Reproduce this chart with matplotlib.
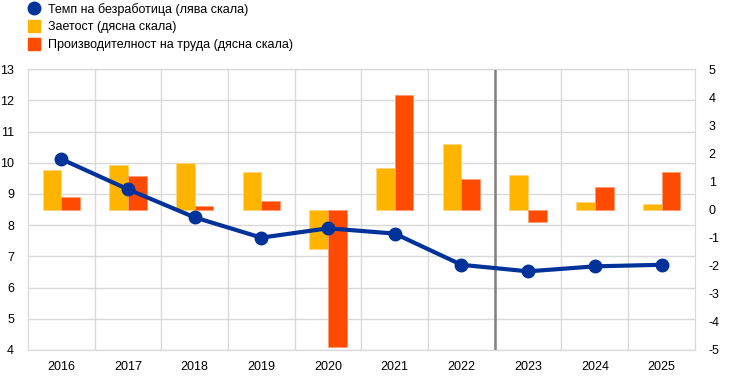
import numpy as np
import matplotlib.pyplot as plt
from matplotlib.lines import Line2D

plt.rcParams["font.family"] = ["Liberation Sans", "DejaVu Sans"]
plt.rcParams["axes.unicode_minus"] = False

# ── Data ──────────────────────────────────────────────────────────────────
years = ["2016", "2017", "2018", "2019", "2020", "2021", "2022", "2023", "2024", "2025"]
unemployment = [10.12, 9.15, 8.25, 7.6, 7.9, 7.73, 6.73, 6.52, 6.68, 6.73]  # left scale
employment = [1.40, 1.58, 1.65, 1.35, -1.40, 1.49, 2.35, 1.23, 0.26, 0.21]  # right scale
productivity = [0.45, 1.19, 0.12, 0.30, -4.9, 4.07, 1.10, -0.44, 0.81, 1.35]  # right scale

BLUE = "#003299"
YELLOW = "#FFB400"
ORANGE = "#FF4B00"
GRID = "#d9d9d9"

fig = plt.figure(figsize=(7.33, 3.8), dpi=100)
ax_bar = fig.add_axes([0.038, 0.079, 0.910, 0.739])
ax_line = ax_bar.twinx()

x = np.arange(len(years))
w = 0.28

ax_bar.bar(x - w / 2, employment, width=w, color=YELLOW, edgecolor="#ffd580", linewidth=0.6, zorder=2)
ax_bar.bar(x + w / 2, productivity, width=w, color=ORANGE, edgecolor="#ff9a70", linewidth=0.6, zorder=2)
ax_bar.set_ylim(-5, 5)
ax_bar.set_yticks(np.arange(-5, 6, 1))
ax_bar.yaxis.tick_right()
ax_bar.set_xlim(-0.5, len(years) - 0.5)
ax_bar.set_xticks(x)
ax_bar.set_xticklabels(years)
ax_bar.set_xticks(np.arange(0.5, len(years) - 0.5, 1), minor=True)
ax_bar.grid(True, which="minor", axis="x", color=GRID, linewidth=1, zorder=0)
ax_bar.axvline(6.5, color="#808080", linewidth=1.8, zorder=3)

# horizontal grid follows the left scale but sits under the bars
for v in np.arange(4, 14, 1):
    ax_bar.axhline(-5 + (v - 4) * 10 / 9, color=GRID, linewidth=1, zorder=0)

ax_line.plot(x, unemployment, color=BLUE, linewidth=3, marker="o", markersize=9, zorder=5)
ax_line.set_ylim(4, 13)
ax_line.set_yticks(np.arange(4, 14, 1))
ax_line.yaxis.tick_left()

for a in (ax_bar, ax_line):
    for s in a.spines.values():
        s.set_color(GRID)
    a.tick_params(which="both", length=0, labelsize=9, colors="#000000")
ax_bar.tick_params(axis="y", pad=10)
ax_bar.tick_params(axis="x", pad=8)
ax_line.tick_params(axis="y", pad=10)

handles = [
    Line2D([], [], linestyle="none", marker="o", markersize=9, color=BLUE),
    Line2D([], [], linestyle="none", marker="s", markersize=9, color=YELLOW),
    Line2D([], [], linestyle="none", marker="s", markersize=9, color=ORANGE),
]
labels = [
    "Темп на безработица (лява скала)",
    "Заетост (дясна скала)",
    "Производителност на труда (дясна скала)",
]
fig.legend(handles, labels, loc="upper left", bbox_to_anchor=(0.03, 1.006), frameon=False,
           fontsize=9, handletextpad=0.5, labelspacing=0.45, handlelength=1.2,
           borderaxespad=0)

fig.savefig("out.png", dpi=100)
